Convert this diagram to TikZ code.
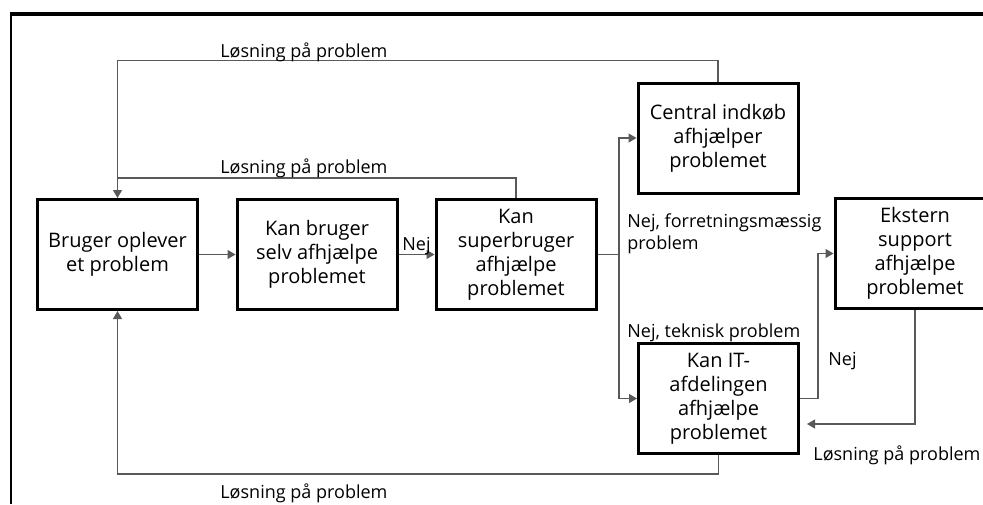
\documentclass[tikz,border=0pt]{standalone}
\usepackage{fontspec}
\setmainfont{Open Sans}
\usetikzlibrary{arrows.meta}

\begin{document}
\begin{tikzpicture}[x=0.5pt,y=-0.5pt,
		box/.style={draw, line width=1.5pt, minimum width=80pt, minimum height=55pt, inner sep=2pt, align=center, font=\fontsize{10}{12}\selectfont},
		flow/.style={draw=black!65, line width=0.6pt},
		arr/.style={flow, -{Triangle[length=4pt,width=4.5pt]}},
		lbl/.style={inner sep=0pt, align=left, font=\fontsize{9}{11}\selectfont}]

		\useasboundingbox (0,0) rectangle (983,504);
		\clip (0,0) rectangle (983,504);

		% make the frame, thick on top and thin on the left
		\draw[line width=2pt] (10,14) -- (983,14);
		\draw[line width=1pt] (11,13) -- (11,504);

		% make the boxes
		\node[box] (bruger) at (117.5,254.5) {Bruger oplever\\et problem};
		\node[box] (selv) at (317,254.5) {Kan bruger\\selv afhjælpe\\problemet};
		\node[box] (super) at (516,254.5) {Kan\\superbruger\\afhjælpe\\problemet};
		\node[box] (central) at (718,138) {Central indkøb\\afhjælper\\problemet};
		\node[box] (ekstern) at (915,253.5) {Ekstern\\support\\afhjælpe\\problemet};
		\node[box] (it) at (718.5,398.5) {Kan IT-\\afdelingen\\afhjælpe\\problemet};

		% make the helper points where lines meet or stop
		\coordinate (split) at (619,254.5);
		\coordinate (topjoin) at (117.5,178);
		\coordinate (knee) at (818,0);
		\coordinate (itreturn) at (807,424);

		% make the forward arrows
		\draw[arr] (bruger) -- (selv);
		\draw[arr] (selv) -- (super) node[lbl, midway, above=-0.5pt] (nej1) {Nej};
		\draw[flow] (super.east) -- (split);
		\draw[arr] (split) |- (central.west);
		\draw[arr] (split) |- (it.west);
		\draw[arr] (it.east) -| (knee |- ekstern.west) -- (ekstern.west);

		% make the return arrows
		\draw[arr] (central.north) -- ++(0,-21) -| (bruger.north);
		\draw[flow] (super.north) |- (topjoin);
		\draw[arr] (it.south) -- ++(0,19) -| (bruger.south);
		\draw[arr] (ekstern.south) |- (itreturn);

		% make the labels
		\node[lbl, anchor=base west] (losn1) at (220,57) {Løsning på problem};
		\node[lbl, anchor=base west] (losn2) at (220,173) {Løsning på problem};
		\node[lbl, anchor=base west] (losn3) at (220,498) {Løsning på problem};
		\node[lbl, anchor=base west] (losn4) at (813,460) {Løsning på problem};
		\node[lbl, anchor=north west] (forr) at (627,213) {Nej, forretningsmæssig\\problem};
		\node[lbl, anchor=base west] (tekn) at (627,337) {Nej, teknisk problem};
		\node[lbl, anchor=base west] (nej2) at (828,365) {Nej};

	\end{tikzpicture}
\end{document}
